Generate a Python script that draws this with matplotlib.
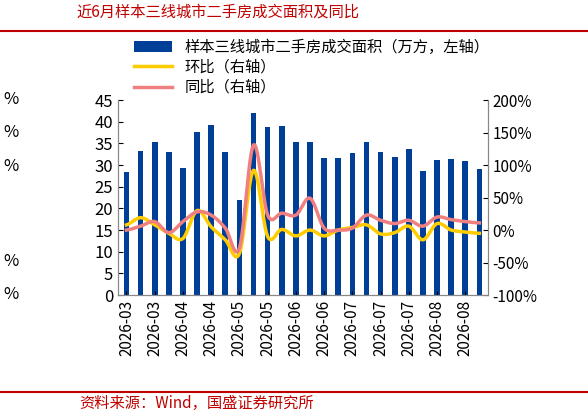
import matplotlib
matplotlib.use("Agg")
import matplotlib.pyplot as plt
import numpy as np

plt.rcParams['font.family'] = ['Noto Sans CJK SC', 'DejaVu Sans']

labels = ["2026-03","2026-03","2026-04","2026-04","2026-05","2026-05","2026-06",
          "2026-06","2026-07","2026-07","2026-07","2026-08","2026-08"]
area = [28.5,33.2,35.2,33,29.3,37.7,39.3,33,22,42,38.8,39,35.4,35.2,31.7,31.7,
        32.7,35.2,33,31.9,33.6,28.6,31.1,31.3,30.9,29]
yoy = [0,6,13,-4,13,28,23,3,-28,131,23,26,23,49,3,0,3,23,15,10,15,6,20,16,13,11]
mom = [8,19,8,-5,-13,30,5,-15,-36,92,-10,1,-9,0,-9,0,4,8,-6,-4,6,-15,10,0,-3,-5]

def smooth(y, n=12):
    y = np.asarray(y, float); p = np.concatenate([[y[0]], y, [y[-1]]])
    xs, ys = [], []
    for i in range(len(y) - 1):
        p0, p1, p2, p3 = p[i], p[i+1], p[i+2], p[i+3]
        t = np.linspace(0, 1, n, endpoint=False)
        ys.append(0.5*(2*p1 + (-p0+p2)*t + (2*p0-5*p1+4*p2-p3)*t**2 + (-p0+3*p1-3*p2+p3)*t**3))
        xs.append(i + t)
    xs.append([len(y)-1]); ys.append([y[-1]])
    return np.concatenate(xs), np.concatenate(ys)

fig = plt.figure(figsize=(5.88, 4.15), dpi=100)
ax = fig.add_axes([0.2007, 0.289, 0.629, 0.47])
x = np.arange(len(area))
b = ax.bar(x, area, width=0.4, color='#003f98', label='样本三线城市二手房成交面积（万方，左轴）')
ax.set_xlim(-0.6, len(area) - 0.4)
ax.set_ylim(0, 45)
ax.set_yticks(range(0, 46, 5))
ax.set_xticks(np.arange(0, len(area), 2))
ax.set_xticklabels(labels, rotation=90, fontsize=11)
ax.tick_params(axis='y', labelsize=12, direction='in')
ax.tick_params(axis='x', direction='in', length=3)
ax2 = ax.twinx()
xs, ys = smooth(mom)
l1, = ax2.plot(xs, ys, color='#ffcc00', lw=2.5, label='环比（右轴）')
xs, ys = smooth(yoy)
l2, = ax2.plot(xs, ys, color='#f08080', lw=2.5, label='同比（右轴）')
ax2.set_ylim(-100, 200)
ax2.set_yticks(range(-100, 201, 50))
ax2.set_yticklabels([f"{v}%" for v in range(-100, 201, 50)])
ax2.tick_params(axis='y', labelsize=11, direction='in')
for a in (ax, ax2):
    for s in a.spines.values():
        s.set_color('#888888')
ax2.spines['top'].set_visible(False); ax.spines['top'].set_visible(False)

fig.legend(handles=[b, l1, l2], loc='upper left', bbox_to_anchor=(0.215, 0.925),
           frameon=False, fontsize=11, handlelength=2.5, labelspacing=0.2, borderpad=0)

fig.text(0.13, 0.97, '近6月样本三线城市二手房成交面积及同比', color='#c00000',
         fontsize=11, style='italic', va='center')
fig.add_artist(plt.Line2D([0.0, 1.0], [0.925, 0.925], color='#c00000', lw=1.5))
fig.add_artist(plt.Line2D([0.0, 1.0], [0.055, 0.055], color='#c00000', lw=1.5))
fig.text(0.135, 0.028, '资料来源：Wind，国盛证券研究所', color='#c00000',
         fontsize=11, style='italic', va='center')
for yy in [0.76, 0.68, 0.6, 0.37, 0.29]:
    fig.text(0.005, yy, '%', fontsize=12, va='center')
fig.savefig('out.png', dpi=100)
